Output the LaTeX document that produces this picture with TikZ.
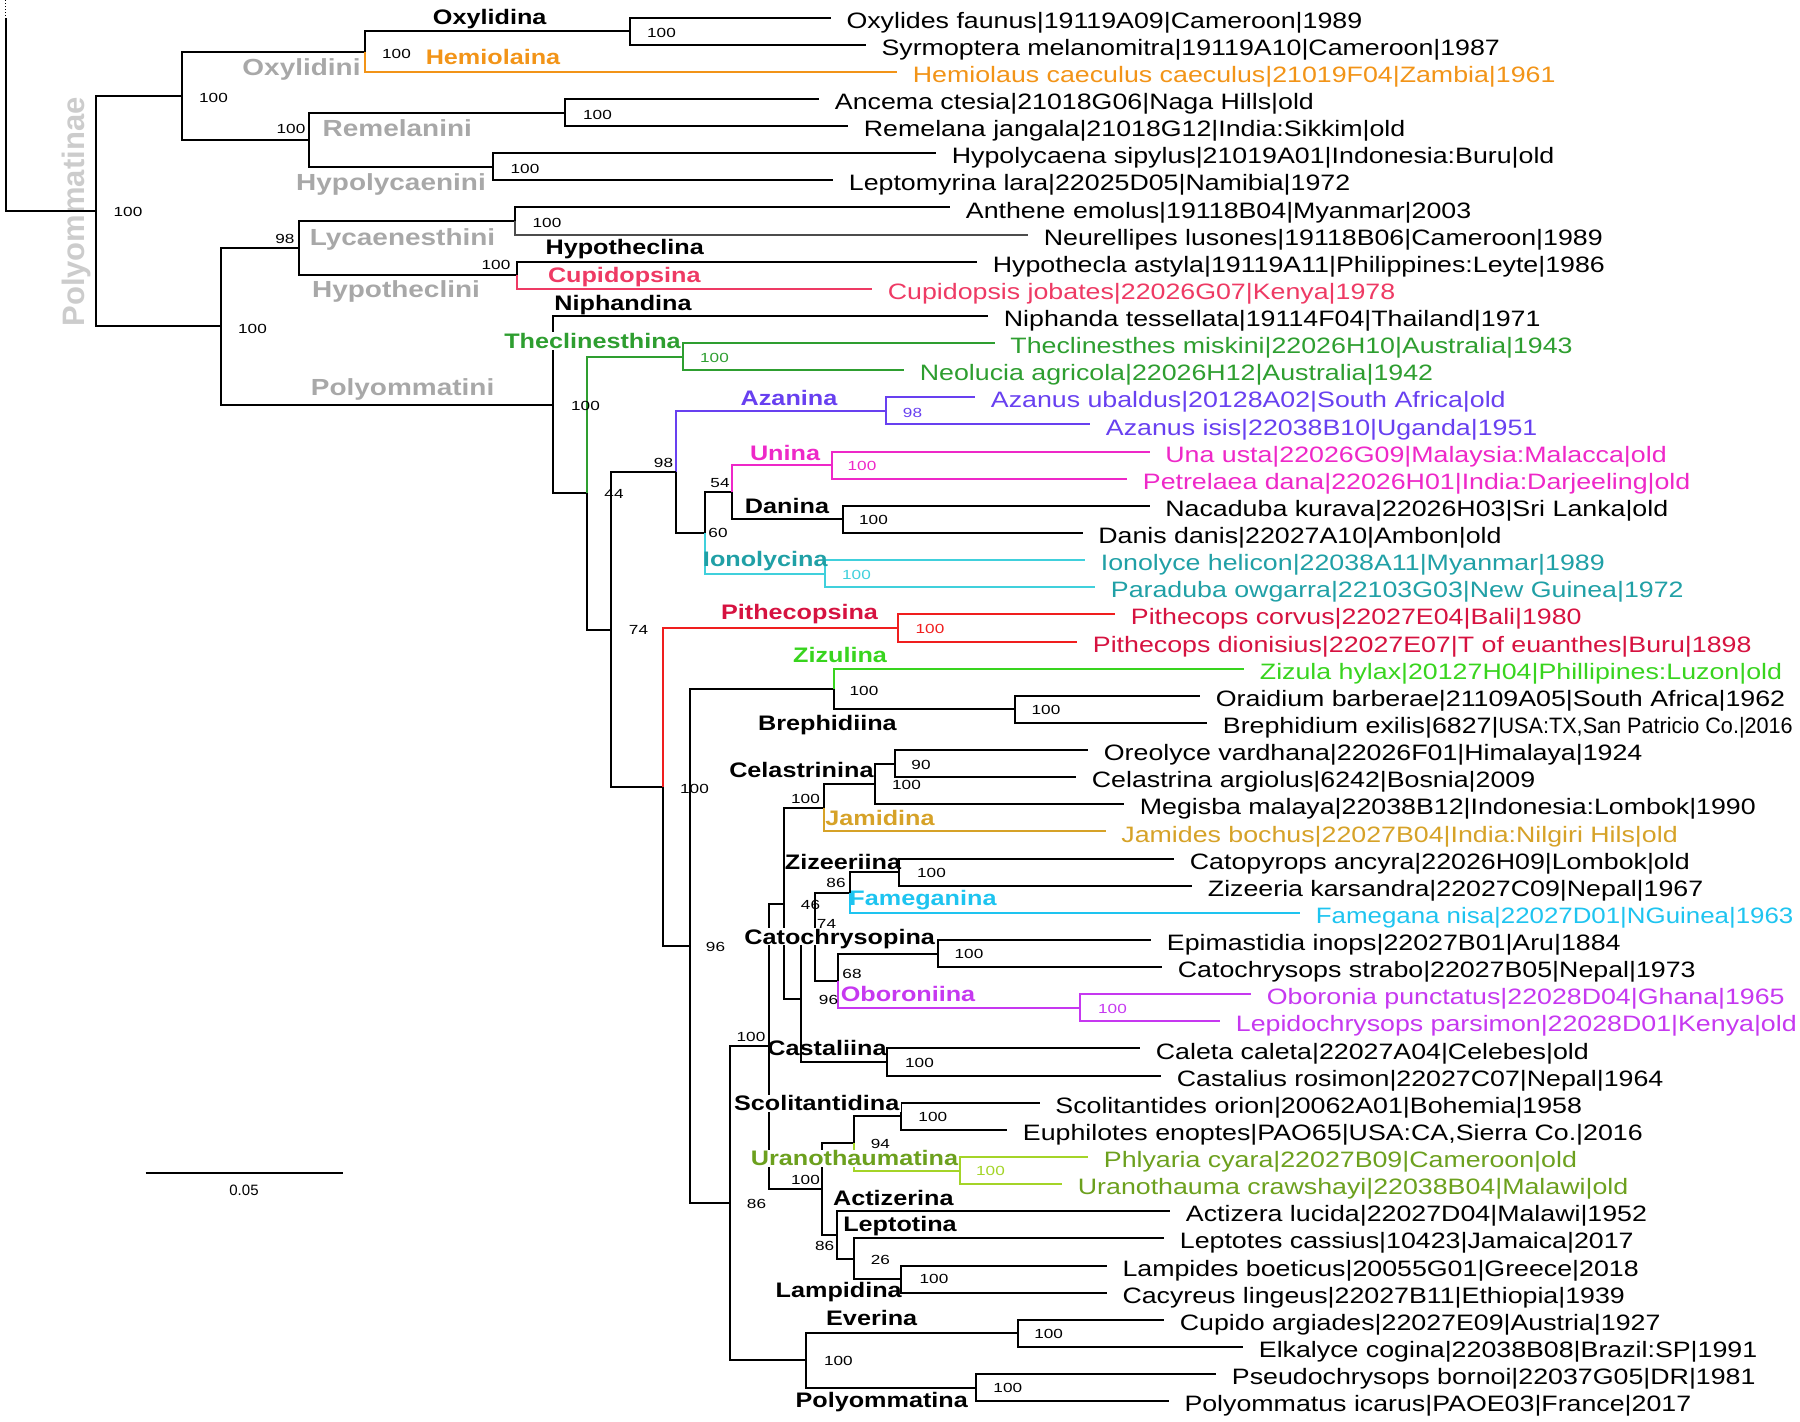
\documentclass[tikz,border=0pt]{standalone}
\usepackage{fontspec}
\setmainfont{Liberation Sans}
\newfontfamily\tipfont[FakeStretch=1.2]{Liberation Sans}
\newfontfamily\tipnarrowfont[FakeStretch=0.97]{Liberation Sans}
\newfontfamily\tipsqueezefont[FakeStretch=1.16]{Liberation Sans}
\newfontfamily\cladefont[FakeStretch=1.2]{Liberation Sans}
\newfontfamily\bootfont[FakeStretch=1.3]{Liberation Sans}
\usetikzlibrary{calc}

\definecolor{hemiola}{RGB}{242,148,24}
\definecolor{cupido}{RGB}{238,58,100}
\definecolor{theclin}{RGB}{46,158,48}
\definecolor{azanus}{RGB}{104,64,240}
\definecolor{unacol}{RGB}{238,40,200}
\definecolor{ionotx}{RGB}{32,160,166}
\definecolor{ionoln}{RGB}{64,208,220}
\definecolor{pithtx}{RGB}{214,18,64}
\definecolor{pithln}{RGB}{240,30,30}
\definecolor{zizula}{RGB}{56,212,30}
\definecolor{jamides}{RGB}{214,162,40}
\definecolor{famega}{RGB}{30,196,240}
\definecolor{oboron}{RGB}{198,56,240}
\definecolor{uranotx}{RGB}{108,160,30}
\definecolor{uranoln}{RGB}{164,212,40}
\definecolor{tribegray}{RGB}{168,168,168}
\definecolor{subfamgray}{RGB}{204,204,204}

\tikzset{
  branch/.style={line width=1pt},
  tiplabel/.style={font=\tipfont\fontsize{11.15}{13}\selectfont, anchor=base west, inner sep=0pt, xshift=7.75pt, yshift=-5.3pt},
  bootlabel/.style={font=\bootfont\fontsize{6.6}{8}\selectfont, inner sep=0pt, text height=4.7pt, text depth=0pt},
  subtribe/.style={font=\cladefont\bfseries\fontsize{10.5}{12}\selectfont, inner sep=0pt, text height=7.5pt, text depth=0pt},
  knock/.style={fill=white, inner sep=0.6pt},
  tribe/.style={font=\cladefont\bfseries\fontsize{11.65}{14}\selectfont, text=tribegray, inner sep=0pt, text height=8.35pt, text depth=0pt}
}

% tip: colour, name, x of branch end, row
\def\leaf[#1](#2:#3:#4)#5{%
  \coordinate (#2) at (#3,{17.5+27.13*#4});
  \node[tiplabel, text=#1] (#2t) at (#2) {#5};}

\begin{document}
\begin{tikzpicture}[x=0.5pt, y=-0.5pt]
	\useasboundingbox (0,0) rectangle (1800,1421);
	%%%%% TIPS %%%%%
	\leaf[black](l0:830.6:0){Oxylides faunus|19119A09|Cameroon|1989}
	\leaf[black](l1:865.7:1){Syrmoptera melanomitra|19119A10|Cameroon|1987}
	\leaf[hemiola](l2:897:2){Hemiolaus caeculus caeculus|21019F04|Zambia|1961}
	\leaf[black](l3:819:3){Ancema ctesia|21018G06|Naga Hills|old}
	\leaf[black](l4:848:4){Remelana jangala|21018G12|India:Sikkim|old}
	\leaf[black](l5:936:5){Hypolycaena sipylus|21019A01|Indonesia:Buru|old}
	\leaf[black](l6:833:6){Leptomyrina lara|22025D05|Namibia|1972}
	\leaf[black](l7:950:7){Anthene emolus|19118B04|Myanmar|2003}
	\leaf[black](l8:1028:8){Neurellipes lusones|19118B06|Cameroon|1989}
	\leaf[black](l9:977:9){Hypothecla astyla|19119A11|Philippines:Leyte|1986}
	\leaf[cupido](l10:872:10){Cupidopsis jobates|22026G07|Kenya|1978}
	\leaf[black](l11:988:11){Niphanda tessellata|19114F04|Thailand|1971}
	\leaf[theclin](l12:994.5:12){Theclinesthes miskini|22026H10|Australia|1943}
	\leaf[theclin](l13:904:13){Neolucia agricola|22026H12|Australia|1942}
	\leaf[azanus](l14:975:14){Azanus ubaldus|20128A02|South Africa|old}
	\leaf[azanus](l15:1090:15){Azanus isis|22038B10|Uganda|1951}
	\leaf[unacol](l16:1149.5:16){Una usta|22026G09|Malaysia:Malacca|old}
	\leaf[unacol](l17:1127:17){Petrelaea dana|22026H01|India:Darjeeling|old}
	\leaf[black](l18:1149.5:18){Nacaduba kurava|22026H03|Sri Lanka|old}
	\leaf[black](l19:1082.5:19){Danis danis|22027A10|Ambon|old}
	\leaf[ionotx](l20:1085:20){Ionolyce helicon|22038A11|Myanmar|1989}
	\leaf[ionotx](l21:1095:21){Paraduba owgarra|22103G03|New Guinea|1972}
	\leaf[pithtx](l22:1115:22){Pithecops corvus|22027E04|Bali|1980}
	\leaf[pithtx](l23:1077:23){Pithecops dionisius|22027E07|T of euanthes|Buru|1898}
	\leaf[zizula](l24:1244:24){Zizula hylax|20127H04|Phillipines:Luzon|old}
	\leaf[black](l25:1200:25){Oraidium barberae|21109A05|South Africa|1962}
	\leaf[black](l26:1207:26){Brephidium exilis|6827|{\tipnarrowfont\fontsize{11.15}{13}\selectfont USA:TX,San Patricio Co.|2016}}
	\leaf[black](l27:1088:27){Oreolyce vardhana|22026F01|Himalaya|1924}
	\leaf[black](l28:1076:28){Celastrina argiolus|6242|Bosnia|2009}
	\leaf[black](l29:1124:29){Megisba malaya|22038B12|Indonesia:Lombok|1990}
	\leaf[jamides](l30:1105.5:30){Jamides bochus|22027B04|India:Nilgiri Hils|old}
	\leaf[black](l31:1174:31){Catopyrops ancyra|22026H09|Lombok|old}
	\leaf[black](l32:1192:32){Zizeeria karsandra|22027C09|Nepal|1967}
	\leaf[famega](l33:1300:33){{\tipsqueezefont\fontsize{11.15}{13}\selectfont Famegana nisa|22027D01|NGuinea|1963}}
	\leaf[black](l34:1151:34){Epimastidia inops|22027B01|Aru|1884}
	\leaf[black](l35:1162:35){Catochrysops strabo|22027B05|Nepal|1973}
	\leaf[oboron](l36:1251:36){Oboronia punctatus|22028D04|Ghana|1965}
	\leaf[oboron](l37:1220:37){Lepidochrysops parsimon|22028D01|Kenya|old}
	\leaf[black](l38:1140:38){Caleta caleta|22027A04|Celebes|old}
	\leaf[black](l39:1161:39){Castalius rosimon|22027C07|Nepal|1964}
	\leaf[black](l40:1039.5:40){Scolitantides orion|20062A01|Bohemia|1958}
	\leaf[black](l41:1007:41){Euphilotes enoptes|PAO65|USA:CA,Sierra Co.|2016}
	\leaf[uranotx](l42:1088:42){Phlyaria cyara|22027B09|Cameroon|old}
	\leaf[uranotx](l43:1062:43){Uranothauma crawshayi|22038B04|Malawi|old}
	\leaf[black](l44:1170:44){Actizera lucida|22027D04|Malawi|1952}
	\leaf[black](l45:1164:45){Leptotes cassius|10423|Jamaica|2017}
	\leaf[black](l46:1106.6:46){Lampides boeticus|20055G01|Greece|2018}
	\leaf[black](l47:1106.6:47){Cacyreus lingeus|22027B11|Ethiopia|1939}
	\leaf[black](l48:1164:48){Cupido argiades|22027E09|Austria|1927}
	\leaf[black](l49:1243:49){Elkalyce cogina|22038B08|Brazil:SP|1991}
	\leaf[black](l50:1216:50){Pseudochrysops bornoi|22037G05|DR|1981}
	\leaf[black](l51:1168.6:51){Polyommatus icarus|PAOE03|France|2017}

	%%%%% INNER NODES %%%%%
	\coordinate (rootcut) at (5.7,0);
	\coordinate (roottop) at (5.7,18);
	\coordinate (root) at (5.7,210.9);
	\coordinate (pmn) at (96.4,210.9);
	\coordinate (nA) at (182,95.5);
	\coordinate (nOxi) at (364.5,51.5);
	\coordinate (nOxa) at (629.7,31.1);
	\coordinate (nB) at (308.8,139.6);
	\coordinate (nRem) at (565.4,112.5);
	\coordinate (nHyc) at (492.5,166.8);
	\coordinate (nD) at (221,326.3);
	\coordinate (nC) at (299,248.1);
	\coordinate (nLyc) at (515,221.0);
	\coordinate (nHth) at (516.6,275.2);
	\coordinate (nE) at (552.8,404.5);
	\coordinate (nF) at (586.6,493.1);
	\coordinate (nThe) at (683,356.6);
	\coordinate (nH) at (611.3,629.6);
	\coordinate (nG) at (676,472.0);
	\coordinate (nAza) at (886,410.9);
	\coordinate (n60) at (705,533.0);
	\coordinate (n54) at (731.9,492.3);
	\coordinate (nUna) at (831.9,465.2);
	\coordinate (nDan) at (843.4,519.4);
	\coordinate (nIon) at (824.8,573.7);
	\coordinate (nI) at (663.3,787.1);
	\coordinate (nPit) at (897.5,628.0);
	\coordinate (nJ) at (689.7,946.2);
	\coordinate (nK) at (833.6,689.0);
	\coordinate (nBre) at (1014.8,709.4);
	\coordinate (nO) at (729.9,1203.4);
	\coordinate (nP) at (768.5,1046.3);
	\coordinate (nQ) at (783.5,903.5);
	\coordinate (nM) at (823.6,807.7);
	\coordinate (nCel) at (874.5,783.9);
	\coordinate (n90) at (894.8,763.6);
	\coordinate (nR) at (801,999.3);
	\coordinate (nS) at (815.2,936.6);
	\coordinate (n86) at (849.7,892.5);
	\coordinate (nZiz) at (899.4,872.1);
	\coordinate (nT) at (838.2,980.6);
	\coordinate (nCat) at (937.5,953.5);
	\coordinate (nObo) at (1079.7,1007.8);
	\coordinate (nCas) at (887.2,1062.0);
	\coordinate (nU) at (822.1,1189.2);
	\coordinate (nV) at (853.5,1143.4);
	\coordinate (nSco) at (900.6,1116.3);
	\coordinate (nUra) at (959.5,1170.6);
	\coordinate (nX) at (837.4,1235.0);
	\coordinate (nY) at (853.5,1258.7);
	\coordinate (nLam) at (901.3,1279.1);
	\coordinate (nZ) at (806.4,1360.4);
	\coordinate (nEve) at (1017.7,1333.3);
	\coordinate (nPol) at (976.3,1387.6);

	%%%%% BRANCHES %%%%%
	\node[rotate=90, font=\bfseries\fontsize{15.5}{17}\selectfont, text=subfamgray, inner sep=0pt] (subfam) at (76,212) {Polyommatinae};
	\draw[line width=0.5pt, densely dotted] (rootcut) -- (roottop);
	\draw[branch] (roottop) -- (root) -- (pmn);
	\draw[branch] (pmn) |- (nA);
	\draw[branch] (pmn) |- (nD);
	\draw[branch] (nA) |- (nOxi);
	\draw[branch] (nA) |- (nB);
	\draw[branch] (nOxi) |- (nOxa);
	\draw[branch, hemiola] (nOxi) |- (l2);
	\draw[branch] (nOxa) |- (l0);
	\draw[branch] (nOxa) |- (l1);
	\draw[branch] (nB) |- (nRem);
	\draw[branch] (nB) |- (nHyc);
	\draw[branch] (nRem) |- (l3);
	\draw[branch] (nRem) |- (l4);
	\draw[branch] (nHyc) |- (l5);
	\draw[branch] (nHyc) |- (l6);
	\draw[branch] (nD) |- (nC);
	\draw[branch] (nD) |- (nE);
	\draw[branch] (nC) |- (nLyc);
	\draw[branch] (nC) |- (nHth);
	\draw[branch] (nLyc) |- (l7);
	\draw[branch, black!70] (nLyc) |- (l8);
	\draw[branch] (nHth) |- (l9);
	\draw[branch, cupido] (nHth) |- (l10);
	\draw[branch] (nE) |- (l11);
	\draw[branch] (nE) |- (nF);
	\draw[branch, theclin] (nF) |- (nThe);
	\draw[branch] (nF) |- (nH);
	\draw[branch, theclin] (nThe) |- (l12);
	\draw[branch, theclin] (nThe) |- (l13);
	\draw[branch, azanus] (nG) |- (nAza);
	\draw[branch] (nH) |- (nG);
	\draw[branch] (nH) |- (nI);
	\draw[branch] (nG) |- (n60);
	\draw[branch, azanus] (nAza) |- (l14);
	\draw[branch, azanus] (nAza) |- (l15);
	\draw[branch] (n60) |- (n54);
	\draw[branch, ionoln] (n60) |- (nIon);
	\draw[branch, unacol] (n54) |- (nUna);
	\draw[branch] (n54) |- (nDan);
	\draw[branch, unacol] (nUna) |- (l16);
	\draw[branch, unacol] (nUna) |- (l17);
	\draw[branch] (nDan) |- (l18);
	\draw[branch] (nDan) |- (l19);
	\draw[branch, ionoln] (nIon) |- (l20);
	\draw[branch, ionoln] (nIon) |- (l21);
	\draw[branch, pithln] (nI) |- (nPit);
	\draw[branch] (nI) |- (nJ);
	\draw[branch, pithln] (nPit) |- (l22);
	\draw[branch, pithln] (nPit) |- (l23);
	\draw[branch] (nJ) |- (nK);
	\draw[branch] (nJ) |- (nO);
	\draw[branch, zizula] (nK) |- (l24);
	\draw[branch] (nK) |- (nBre);
	\draw[branch] (nBre) |- (l25);
	\draw[branch] (nBre) |- (l26);
	\draw[branch] (nO) |- (nP);
	\draw[branch] (nO) |- (nZ);
	\draw[branch] (nP) |- (nQ);
	\draw[branch] (nP) |- (nU);
	\draw[branch] (nQ) |- (nM);
	\draw[branch] (nQ) |- (nR);
	\draw[branch] (nM) |- (nCel);
	\draw[branch, jamides] (nM) |- (l30);
	\draw[branch] (nCel) |- (n90);
	\draw[branch] (nCel) |- (l29);
	\draw[branch] (n90) |- (l27);
	\draw[branch] (n90) |- (l28);
	\draw[branch] (nR) |- (nS);
	\draw[branch] (nR) |- (nCas);
	\draw[branch] (nS) |- (n86);
	\draw[branch] (nS) |- (nT);
	\draw[branch] (n86) |- (nZiz);
	\draw[branch, famega] (n86) |- (l33);
	\draw[branch] (nZiz) |- (l31);
	\draw[branch] (nZiz) |- (l32);
	\draw[branch] (nT) |- (nCat);
	\draw[branch, oboron] (nT) |- (nObo);
	\draw[branch] (nCat) |- (l34);
	\draw[branch] (nCat) |- (l35);
	\draw[branch, oboron] (nObo) |- (l36);
	\draw[branch, oboron] (nObo) |- (l37);
	\draw[branch] (nCas) |- (l38);
	\draw[branch] (nCas) |- (l39);
	\draw[branch] (nU) |- (nV);
	\draw[branch] (nU) |- (nX);
	\draw[branch] (nV) |- (nSco);
	\draw[branch, uranoln] (nV) |- (nUra);
	\draw[branch] (nSco) |- (l40);
	\draw[branch] (nSco) |- (l41);
	\draw[branch, uranoln] (nUra) |- (l42);
	\draw[branch, uranoln] (nUra) |- (l43);
	\draw[branch] (nX) |- (l44);
	\draw[branch] (nX) |- (nY);
	\draw[branch] (nY) |- (l45);
	\draw[branch] (nY) |- (nLam);
	\draw[branch] (nLam) |- (l46);
	\draw[branch] (nLam) |- (l47);
	\draw[branch] (nZ) |- (nEve);
	\draw[branch] (nZ) |- (nPol);
	\draw[branch] (nEve) |- (l48);
	\draw[branch] (nEve) |- (l49);
	\draw[branch] (nPol) |- (l50);
	\draw[branch] (nPol) |- (l51);

	%%%%% SUPPORT VALUES %%%%%
	\node[bootlabel] (bpmn) at (128,212) {100};
	\node[bootlabel] (bA) at (213.5,97.3) {100};
	\node[bootlabel] (bOxi) at (396.5,53.3) {100};
	\node[bootlabel] (bOxa) at (661.5,32.3) {100};
	\node[bootlabel] (bB) at (291,128.3) {100};
	\node[bootlabel] (bRem) at (597.5,114.3) {100};
	\node[bootlabel] (bHyc) at (525,168.3) {100};
	\node[bootlabel] (bC) at (285,238.3) {98};
	\node[bootlabel] (bD) at (252.5,328.3) {100};
	\node[bootlabel] (bLyc) at (547,222.7) {100};
	\node[bootlabel] (bHth) at (496,265) {100};
	\node[bootlabel] (bE) at (585.5,405.7) {100};
	\node[bootlabel] (bF) at (614,493.3) {44};
	\node[bootlabel, text=theclin] (bThe) at (714.5,357.7) {100};
	\node[bootlabel] (bG) at (663.5,462.7) {98};
	\node[bootlabel, text=azanus] (bAza) at (912.5,412.7) {98};
	\node[bootlabel] (b54) at (720,483) {54};
	\node[bootlabel] (b60) at (718,532.3) {60};
	\node[bootlabel, text=unacol] (bUna) at (862,466) {100};
	\node[bootlabel] (bDan) at (873.5,520) {100};
	\node[bootlabel, text=ionoln] (bIon) at (856.5,575) {100};
	\node[bootlabel] (bH) at (638.5,630) {74};
	\node[bootlabel, text=pithln] (bPit) at (930,628.3) {100};
	\node[bootlabel] (bI) at (694.5,788.3) {100};
	\node[bootlabel] (bK) at (864,690.7) {100};
	\node[bootlabel] (bBre) at (1046,710) {100};
	\node[bootlabel] (b90) at (921,765) {90};
	\node[bootlabel] (bCel) at (906.5,785) {100};
	\node[bootlabel] (bM) at (805.5,798.3) {100};
	\node[bootlabel] (bJ) at (715.5,946.7) {96};
	\node[bootlabel] (bQ) at (810.5,904.3) {46};
	\node[bootlabel] (b86) at (836,882.7) {86};
	\node[bootlabel] (bZiz) at (931.5,872.7) {100};
	\node[bootlabel] (bS) at (826.5,923.3) {74};
	\node[bootlabel] (bT) at (852,974) {68};
	\node[bootlabel] (bR) at (828.5,1000) {96};
	\node[bootlabel] (bCat) at (969,954) {100};
	\node[bootlabel, text=oboron] (bObo) at (1112.5,1008.3) {100};
	\node[bootlabel] (bCas) at (919.5,1062.3) {100};
	\node[bootlabel] (bP) at (751,1036.7) {100};
	\node[bootlabel] (bO) at (756.5,1204) {86};
	\node[bootlabel] (bU) at (805.5,1180) {100};
	\node[bootlabel] (bV) at (880.3,1144) {94};
	\node[bootlabel] (bSco) at (932.8,1116.7) {100};
	\node[bootlabel, text=uranoln] (bUra) at (990.5,1170.7) {100};
	\node[bootlabel] (bX) at (824.7,1245.7) {86};
	\node[bootlabel] (bY) at (880.3,1259.3) {26};
	\node[bootlabel] (bLam) at (934,1279) {100};
	\node[bootlabel] (bZ) at (838.4,1361) {100};
	\node[bootlabel] (bEve) at (1048.6,1333.3) {100};
	\node[bootlabel] (bPol) at (1007.8,1387.7) {100};

	%%%%% TRIBES %%%%%
	\node[tribe] (tOxi) at (301.5,66.7) {Oxylidini};
	\node[tribe] (tRem) at (397.3,127.7) {Remelanini};
	\node[tribe] (tHyc) at (391,181.7) {Hypolycaenini};
	\node[tribe] (tLyc) at (402.5,237.3) {Lycaenesthini};
	\node[tribe] (tHth) at (396,289.5) {Hypotheclini};
	\node[tribe] (tPol) at (402.6,387.3) {Polyommatini};

	%%%%% SUBTRIBES %%%%%
	\node[subtribe] (sOxa) at (489.7,16.7) {Oxylidina};
	\node[subtribe, text=hemiola] (sHem) at (493,57.3) {Hemiolaina};
	\node[subtribe] (sHth) at (624.7,247.3) {Hypotheclina};
	\node[subtribe, text=cupido] (sCup) at (624.3,275) {Cupidopsina};
	\node[subtribe] (sNip) at (623,303.3) {Niphandina};
	\node[subtribe, knock, text=theclin] (sThe) at (592.5,341) {Theclinesthina};
	\node[subtribe, text=azanus] (sAza) at (789,398.3) {Azanina};
	\node[subtribe, text=unacol] (sUna) at (785,452.7) {Unina};
	\node[subtribe] (sDan) at (787,506) {Danina};
	\node[subtribe, text=ionotx] (sIon) at (765.3,559.3) {Ionolycina};
	\node[subtribe, text=pithtx] (sPit) at (799.5,611.7) {Pithecopsina};
	\node[subtribe, text=zizula] (sZzl) at (840,655) {Zizulina};
	\node[subtribe] (sBre) at (827.4,723.3) {Brephidiina};
	\node[subtribe] (sCel) at (801.4,770) {Celastrinina};
	\node[subtribe, text=jamides] (sJam) at (880,818.3) {Jamidina};
	\node[subtribe] (sZiz) at (843,861.7) {Zizeeriina};
	\node[subtribe, text=famega] (sFam) at (923,898.3) {Fameganina};
	\node[subtribe, knock] (sCat) at (839.7,936.7) {Catochrysopina};
	\node[subtribe, text=oboron] (sObo) at (908,994) {Oboroniina};
	\node[subtribe] (sCas) at (827,1048.3) {Castaliina};
	\node[subtribe, knock] (sSco) at (816.7,1103.3) {Scolitantidina};
	\node[subtribe, knock, text=uranotx] (sUra) at (854.5,1158.3) {Uranothaumatina};
	\node[subtribe] (sAct) at (893.3,1197.7) {Actizerina};
	\node[subtribe] (sLep) at (900,1224.3) {Leptotina};
	\node[subtribe] (sLam) at (838.7,1290) {Lampidina};
	\node[subtribe] (sEve) at (871.7,1318.3) {Everina};
	\node[subtribe] (sPol) at (881.7,1400) {Polyommatina};

	%%%%% SCALE %%%%%
	\coordinate (sbl) at (145.7,1172.7);
	\coordinate (sbr) at (343.3,1172.7);
	\draw[branch] (sbl) -- (sbr);
	\node[font=\fontsize{7.5}{9}\selectfont, inner sep=0pt] (sbtext) at (244,1190.7) {0.05};
\end{tikzpicture}
\end{document}
